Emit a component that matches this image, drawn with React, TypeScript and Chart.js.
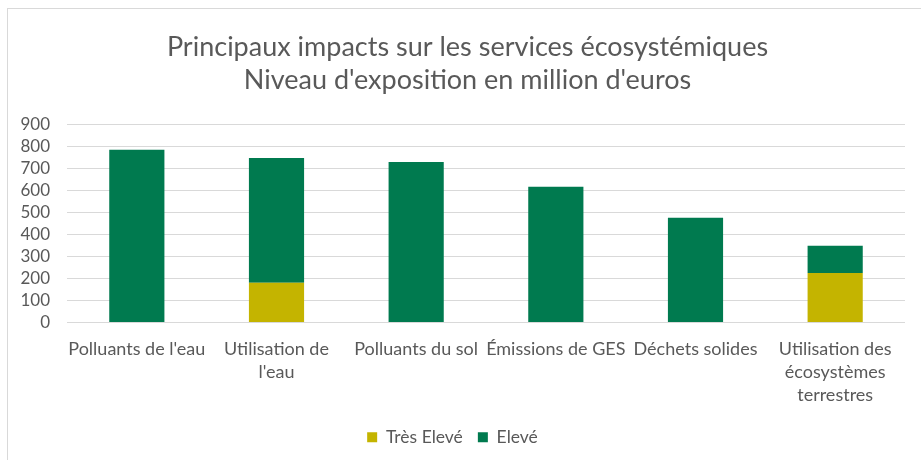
import React, { useEffect, useRef } from "react";
import { Chart, registerables } from "chart.js";

Chart.register(...registerables);

const categories: (string | string[])[] = [
  "Polluants de l'eau",
  ["Utilisation de", "l'eau"],
  "Polluants du sol",
  "Émissions de GES",
  "Déchets solides",
  ["Utilisation des", "écosystèmes", "terrestres"],
];
const tresEleve = [0, 180, 0, 0, 0, 225];
const eleve = [785, 568, 729, 617, 476, 124];
const titleLines = [
  "Principaux impacts sur les services écosystémiques",
  "Niveau d'exposition en million d'euros",
];

const FONT = "Lato";
const TEXT = "#595959";

const frame = {
  id: "frame",
  afterLayout(chart: any) {
    const tb = chart.titleBlock;
    if (tb) {
      tb.left = 30;
    }
  },
  afterDraw(chart: any) {
    const ctx = chart.ctx;
    ctx.save();
    ctx.strokeStyle = "#d9d9d9";
    ctx.lineWidth = 1;
    ctx.strokeRect(7.5, 8.5, 1000, 1000);
    ctx.restore();
  },
};

export default function App() {
  const ref = useRef<HTMLCanvasElement>(null);
  useEffect(() => {
    if (!ref.current) return;
    const chart = new Chart(ref.current, {
      type: "bar",
      data: {
        labels: categories,
        datasets: [
          { label: "Très Elevé", data: tresEleve, backgroundColor: "#c4b400", barPercentage: 0.79, categoryPercentage: 0.5 },
          { label: "Elevé", data: eleve, backgroundColor: "#007a4f", barPercentage: 0.79, categoryPercentage: 0.5 },
        ],
      },
      options: {
        animation: false,
        responsive: false,
        maintainAspectRatio: false,
        layout: { padding: { top: 25, right: 16, left: 0, bottom: 4 } },
        plugins: {
          title: {
            display: true,
            text: titleLines,
            color: TEXT,
            font: { family: FONT, size: 27, weight: "normal", lineHeight: 1.222 },
            padding: { top: 6, bottom: 27.5 },
          },
          legend: {
            position: "bottom",
            labels: {
              color: TEXT,
              font: { family: FONT, size: 17.5 },
              boxWidth: 10,
              boxHeight: 10,
              padding: 15,
            },
          },
          tooltip: { enabled: false },
        },
        scales: {
          x: {
            stacked: true,
            grid: { display: false },
            border: { display: false },
            ticks: {
              color: TEXT,
              font: { family: FONT, size: 18, lineHeight: 1.28 },
              maxRotation: 0,
              autoSkip: false,
              padding: 7,
            },
          },
          y: {
            stacked: true,
            min: 0,
            max: 900,
            border: { display: false },
            grid: { color: "#d9d9d9", drawTicks: false },
            ticks: {
              stepSize: 100,
              autoSkip: false,
              color: TEXT,
              font: { family: FONT, size: 17 },
              padding: 17,
            },
            afterFit(scale: any) {
              scale.width = 67;
            },
          },
        },
      },
      plugins: [frame],
    });
    return () => chart.destroy();
  }, []);
  return (
    <div style={{ position: "absolute", left: 0, top: 0, width: 921, height: 460, background: "#fff" }}>
      <canvas ref={ref} width={921} height={460} style={{ width: 921, height: 460 }} />
    </div>
  );
}
